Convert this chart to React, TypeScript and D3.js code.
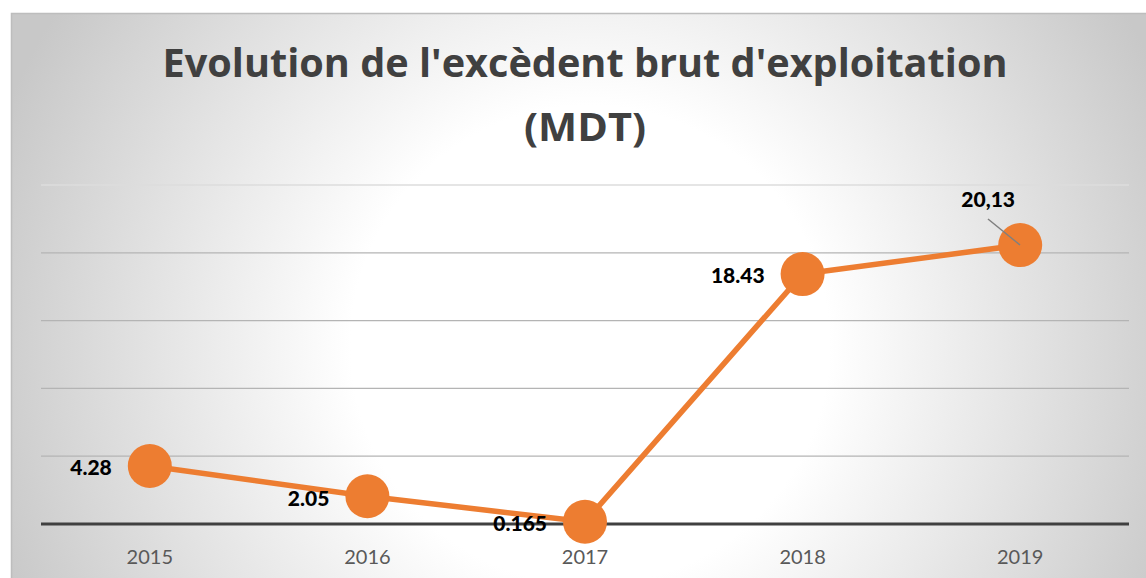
import React from "react";
import * as d3 from "d3";

const years = ["2015", "2016", "2017", "2018", "2019"];
const values = [4.28, 2.05, 0.165, 18.43, 20.57];
const labels = ["4.28", "2.05", "0.165", "18.43", "20,13"];
const yTicks = [0, 5, 10, 15, 20, 25];
const titleLines = ["Evolution de l'excèdent brut d'exploitation", "(MDT)"];

const W = 1146;
const H = 578;
const FONT = "Lato, 'Open Sans', sans-serif";
const TFONT = "'Open Sans', Lato, sans-serif";

export default function App() {
  const left = 41;
  const right = 1129;
  const x = d3.scaleBand<string>().domain(years).range([left, right]).padding(0);
  const y = d3.scaleLinear().domain([0, 25]).range([524, 185]);
  const cx = (d: string) => (x(d) as number) + x.bandwidth() / 2;
  const line = d3
    .line<number>()
    .x((_, i) => cx(years[i]))
    .y((v) => y(v));

  return (
    <svg
      width={W}
      height={H}
      style={{ position: "absolute", left: 0, top: 0 }}
    >
      <defs>
        <radialGradient id="bg" gradientUnits="userSpaceOnUse" cx={590} cy={345} r={630}>
          <stop offset="0%" stopColor="#ffffff" />
          <stop offset="38%" stopColor="#ffffff" />
          <stop offset="100%" stopColor="#c8c8c8" />
        </radialGradient>
      </defs>
      <rect x={0} y={0} width={W} height={H} fill="#ffffff" />
      <rect x={11.5} y={13.5} width={W} height={H} fill="url(#bg)" stroke="#bdbdbd" strokeWidth={1.5} />
      <text
        x={585}
        y={77}
        textAnchor="middle"
        fontFamily={TFONT}
        fontWeight={700}
        fontSize={39}
        fill="#404040"
        textLength={845}
        lengthAdjust="spacingAndGlyphs"
      >
        {titleLines[0]}
      </text>
      <text
        x={585}
        y={141}
        textAnchor="middle"
        fontFamily={TFONT}
        fontWeight={700}
        fontSize={39}
        fill="#404040"
        textLength={122}
        lengthAdjust="spacingAndGlyphs"
      >
        {titleLines[1]}
      </text>
      {yTicks.slice(1).map((t) => (
        <line key={t} x1={left} x2={right} y1={y(t)} y2={y(t)} stroke={t === 25 ? "#dcdcdc" : "#b4b4b4"} strokeWidth={1.3} />
      ))}
      <line x1={left} x2={right} y1={y(0)} y2={y(0)} stroke="#404040" strokeWidth={3} />
      {years.map((yr) => (
        <text
          key={yr}
          x={cx(yr)}
          y={564}
          textAnchor="middle"
          fontFamily={FONT}
          fontSize={20}
          fill="#595959"
        >
          {yr}
        </text>
      ))}
      <path d={line(values) || ""} fill="none" stroke="#ED7D31" strokeWidth={5.5} strokeLinejoin="round" />
      {values.map((v, i) => (
        <circle key={i} cx={cx(years[i])} cy={y(v)} r={22} fill="#ED7D31" />
      ))}
      <line x1={988} y1={219} x2={1020} y2={245} stroke="#7f7f7f" strokeWidth={1.5} />
      {values.map((v, i) => {
        const last = i === values.length - 1;
        return (
          <text
            key={i}
            x={last ? cx(years[i]) - 32 : cx(years[i]) - 38}
            y={last ? y(v) - 43 : y(v) + 4}
            textAnchor={last ? "middle" : "end"}
            dominantBaseline="middle"
            fontFamily={FONT}
            fontWeight={900}
            fontSize={21}
            fill="#000000"
          >
            {labels[i]}
          </text>
        );
      })}
    </svg>
  );
}
